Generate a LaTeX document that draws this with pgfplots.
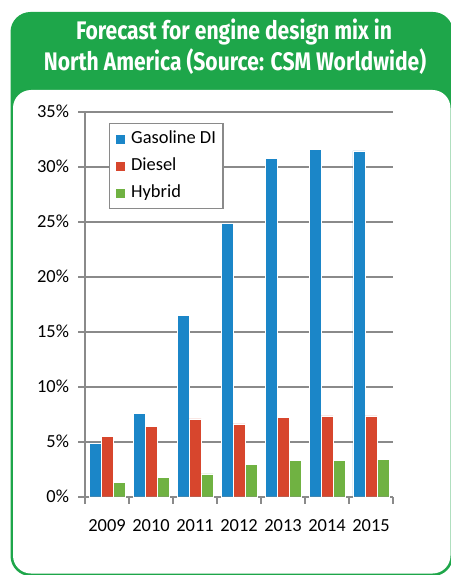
\documentclass[border=0pt]{standalone}
\usepackage{pgfplots}
\pgfplotsset{compat=1.18}
\usepackage{fontspec}
\setmainfont{Carlito}
\newfontfamily\titlefont[FakeStretch=0.83]{Fira Sans}
\definecolor{hdrgreen}{RGB}{30,166,74}
\definecolor{barblue}{RGB}{27,134,200}
\definecolor{barred}{RGB}{215,70,45}
\definecolor{bargreen}{RGB}{112,178,66}
\definecolor{gridgray}{RGB}{138,138,138}
\begin{document}
\begin{tikzpicture}[x=1bp,y=1bp]
\path[use as bounding box] (0,0) rectangle (451,-575);
\fill[hdrgreen, rounded corners=20bp] (10.5,-12) rectangle (453,-576);
\fill[white, rounded corners=18bp] (13,-90) rectangle (450.5,-573.5);
\node[anchor=base, text=white, font=\titlefont\bfseries\fontsize{25.5}{30}\selectfont, inner sep=0pt] at (234,-40) {Forecast for engine design mix in};
\node[anchor=base, text=white, font=\titlefont\bfseries\fontsize{25.5}{30}\selectfont, inner sep=0pt] at (235,-71) {North America (Source: CSM Worldwide)};
\begin{axis}[
  at={(85bp,-496.7bp)}, anchor=south west,
  scale only axis, width=308bp, height=385bp,
  xmin=-0.5, xmax=6.5, ymin=0, ymax=35,
  ybar=0pt, bar width=12bp,
  axis x line*=bottom, axis y line*=left,
  axis line style={gridgray, line width=1.6bp},
  every outer x axis line/.append style={-}, every outer y axis line/.append style={-},
  xtick={0,...,6}, xticklabels={2009,2010,2011,2012,2013,2014,2015},
  major x tick style={draw=none},
  minor xtick={-0.5,0.5,...,6.5},
  minor x tick style={gridgray, line width=1.6bp},
  minor tick length=7bp,
  ytick={0,5,...,35},
  yticklabel={\pgfmathprintnumber{\tick}\%},
  major y tick style={gridgray, line width=1.6bp},
  major tick length=7bp,
  tick align=outside,
  ymajorgrids, grid style={gridgray, line width=1.6bp},
  tick label style={font=\fontsize{18.5}{21}\selectfont, text=black},
  /pgf/number format/assume math mode=true,
  yticklabel style={xshift=-5.5bp},
  xticklabel style={yshift=-12bp},
  legend style={at={(0.078,0.971)}, anchor=north west, draw=gridgray, line width=1.4bp,
    font=\fontsize{18.5}{21}\selectfont, row sep=6bp, inner xsep=5bp, inner ysep=5bp,
    nodes={inner sep=2bp, text height=13bp, text depth=4bp}},
  legend cell align=left,
  legend image code/.code={\fill[#1] (0bp,-5bp) rectangle (10bp,5bp); \path (14bp,0bp);},
  clip=false,
]
\addplot[fill=barblue, draw=white, line width=0.4bp] coordinates {(0,4.9) (1,7.55) (2,16.5) (3,24.9) (4,30.76) (5,31.58) (6,31.45)};
\addplot[fill=barred, draw=white, line width=0.4bp] coordinates {(0,5.47) (1,6.41) (2,7.08) (3,6.62) (4,7.23) (5,7.35) (6,7.35)};
\addplot[fill=bargreen, draw=white, line width=0.4bp] coordinates {(0,1.28) (1,1.73) (2,2.07) (3,2.92) (4,3.28) (5,3.28) (6,3.37)};
\legend{Gasoline DI, Diesel, Hybrid}
\end{axis}
\end{tikzpicture}
\end{document}
